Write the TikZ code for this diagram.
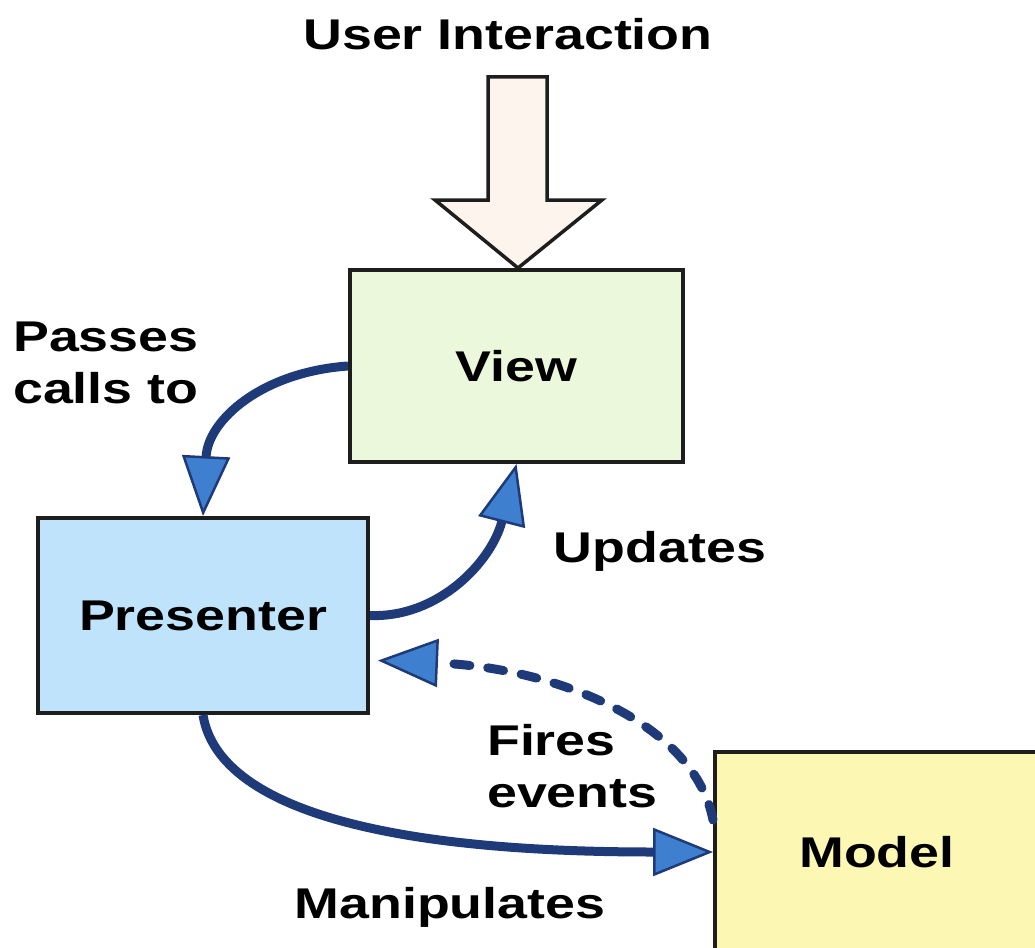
\documentclass[tikz,border=0pt]{standalone}
\usepackage{fontspec}
\setmainfont{Liberation Sans}[FakeStretch=1.25]
\usetikzlibrary{arrows.meta}
\definecolor{viewfill}{HTML}{EBF8DC}
\definecolor{presfill}{HTML}{BEE3FA}
\definecolor{modelfill}{HTML}{FCF8B4}
\definecolor{boxline}{HTML}{1E1E1E}
\definecolor{arrowdark}{HTML}{1E3A78}
\definecolor{arrowfill}{HTML}{3F7FD0}
\definecolor{peach}{HTML}{FDF4EE}
\begin{document}
\begin{tikzpicture}[x=1pt,y=-1pt,
  box/.style={draw=boxline, line width=4pt, inner sep=0pt},
  lbl/.style={font=\fontsize{43}{52}\selectfont\bfseries, inner sep=0pt, text=black},
  conn/.style={draw=arrowdark, line width=9pt,
    -{Triangle[length=60pt,width=48pt,fill=arrowfill,line width=2.5pt]}},
  dconn/.style={conn, dash pattern=on 16pt off 18pt, line cap=round},
]
\useasboundingbox (0,0) rectangle (1035,947);

% boxes
\node[box, fill=viewfill, minimum width=333pt, minimum height=192pt, lbl] (view) at (516.5,366) {View};
\node[box, fill=presfill, minimum width=330pt, minimum height=195pt, lbl] (presenter) at (203,615.5) {Presenter};
\node[box, fill=modelfill, minimum width=324pt, minimum height=200pt, lbl] (model) at (877,852) {Model};

% hollow input arrow
\draw[line width=3.5pt, fill=peach, line join=miter, draw=boxline]
  (488,77) -- (547,77) -- (547,200) -- (602,200) -- (518,268) -- (435,200) -- (488,200) -- cycle;

% labels
\node[lbl, anchor=base] (ui) at (508,50) {User Interaction};
\node[lbl, anchor=north west, align=left] (passes) at (13,322) {Passes\\calls to};
\node[lbl, anchor=base] (updates) at (660,562) {Updates};
\node[lbl, anchor=north west, align=left] (fires) at (487,724) {Fires\\events};
\node[lbl, anchor=base] (manip) at (450,918) {Manipulates};

% connectors
\draw[conn] (view.west) .. controls (262,372) and (208,420) .. (presenter.north);
\draw[conn] (presenter.east) .. controls (440,618) and (492,560) .. (view.south);
\draw[dconn] ([yshift=32pt]model.west) .. controls (695,725) and (560,668) .. ([xshift=8pt,yshift=-45pt]presenter.east);
\draw[conn] (presenter.south) .. controls (215,790) and (330,852) .. (model.west);
\end{tikzpicture}
\end{document}
